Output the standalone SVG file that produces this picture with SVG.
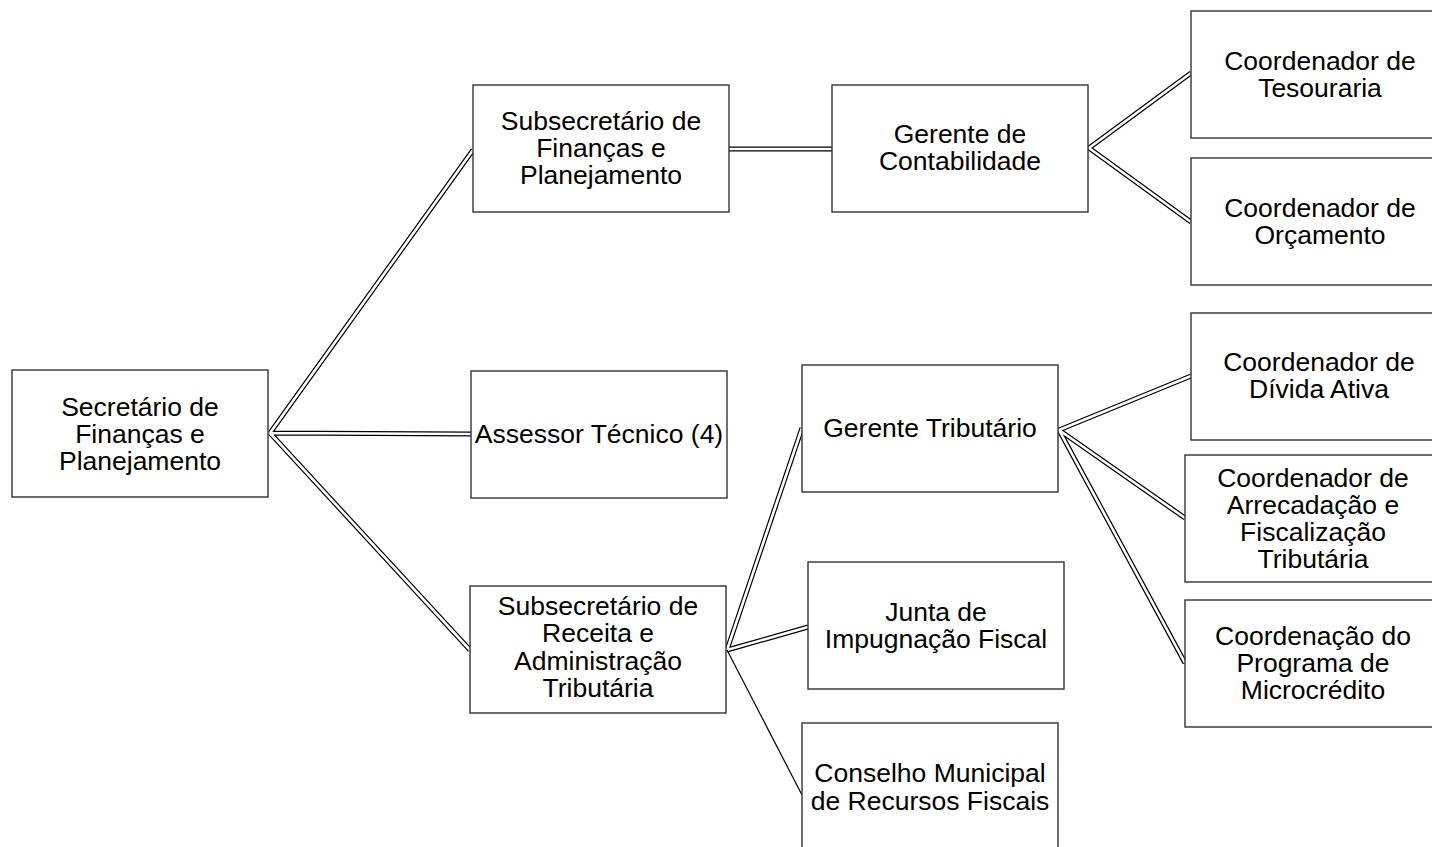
<svg xmlns="http://www.w3.org/2000/svg" width="1432" height="847" viewBox="0 0 1432 847">
<style>
.box{fill:#fff;stroke:#333;stroke-width:1.4}
.t{font-family:"Liberation Sans",Arial,sans-serif;font-size:26.5px;fill:#000;text-anchor:middle}
.co{fill:none;stroke:#000;stroke-width:5}
.ci{fill:none;stroke:#fff;stroke-width:2.6}
.cs{fill:none;stroke:#000;stroke-width:1.2}
</style>
<rect width="1432" height="847" fill="#fff"/>
<g id="connectors">
<path class="co" d="M270 433 L473 150 M270 433 L471 434 M270 433 L470 650 M729 149 L832 149 M1089 148 L1191 73 M1089 148 L1191 222 M727 650 L802 428 M727 650 L808 627 M1059 430 L1191 376 M1059 430 L1185 518 M1059 430 L1185 663"/>
<path class="ci" d="M270 433 L473 150 M270 433 L471 434 M270 433 L470 650 M729 149 L832 149 M1089 148 L1191 73 M1089 148 L1191 222 M727 650 L802 428 M727 650 L808 627 M1059 430 L1191 376 M1059 430 L1185 518 M1059 430 L1185 663"/>
<path class="cs" d="M727 650 L802 795"/>
</g>
<g id="n-secretario"><rect class="box" x="12" y="370" width="256" height="127"/><text class="t"><tspan x="140" y="416">Secretário de</tspan><tspan x="140" y="443">Finanças e</tspan><tspan x="140" y="470">Planejamento</tspan></text></g>
<g id="n-subfin"><rect class="box" x="473" y="85" width="256" height="127"/><text class="t"><tspan x="601" y="130">Subsecretário de</tspan><tspan x="601" y="157">Finanças e</tspan><tspan x="601" y="184">Planejamento</tspan></text></g>
<g id="n-contab"><rect class="box" x="832" y="85" width="256" height="127"/><text class="t"><tspan x="960" y="143">Gerente de</tspan><tspan x="960" y="170">Contabilidade</tspan></text></g>
<g id="n-tesouraria"><rect class="box" x="1191" y="11" width="256" height="127"/><text class="t"><tspan x="1320" y="70">Coordenador de</tspan><tspan x="1320" y="97">Tesouraria</tspan></text></g>
<g id="n-orcamento"><rect class="box" x="1191" y="158" width="256" height="127"/><text class="t"><tspan x="1320" y="217">Coordenador de</tspan><tspan x="1320" y="244">Orçamento</tspan></text></g>
<g id="n-assessor"><rect class="box" x="471" y="371" width="256" height="127"/><text class="t" x="599" y="443">Assessor Técnico (4)</text></g>
<g id="n-subrec"><rect class="box" x="470" y="586" width="256" height="127"/><text class="t"><tspan x="598" y="615">Subsecretário de</tspan><tspan x="598" y="642">Receita e</tspan><tspan x="598" y="670">Administração</tspan><tspan x="598" y="697">Tributária</tspan></text></g>
<g id="n-gertrib"><rect class="box" x="802" y="365" width="256" height="127"/><text class="t" x="930" y="437">Gerente Tributário</text></g>
<g id="n-divida"><rect class="box" x="1191" y="313" width="256" height="127"/><text class="t"><tspan x="1319" y="371">Coordenador de</tspan><tspan x="1319" y="398">Dívida Ativa</tspan></text></g>
<g id="n-arrecadacao"><rect class="box" x="1185" y="455" width="256" height="127"/><text class="t"><tspan x="1313" y="487">Coordenador de</tspan><tspan x="1313" y="514">Arrecadação e</tspan><tspan x="1313" y="541">Fiscalização</tspan><tspan x="1313" y="568">Tributária</tspan></text></g>
<g id="n-microcredito"><rect class="box" x="1185" y="600" width="256" height="127"/><text class="t"><tspan x="1313" y="645">Coordenação do</tspan><tspan x="1313" y="672">Programa de</tspan><tspan x="1313" y="699">Microcrédito</tspan></text></g>
<g id="n-junta"><rect class="box" x="808" y="562" width="256" height="127"/><text class="t"><tspan x="936" y="621">Junta de</tspan><tspan x="936" y="648">Impugnação Fiscal</tspan></text></g>
<g id="n-conselho"><rect class="box" x="802" y="723" width="256" height="127"/><text class="t"><tspan x="930" y="782">Conselho Municipal</tspan><tspan x="930" y="810">de Recursos Fiscais</tspan></text></g>
</svg>
